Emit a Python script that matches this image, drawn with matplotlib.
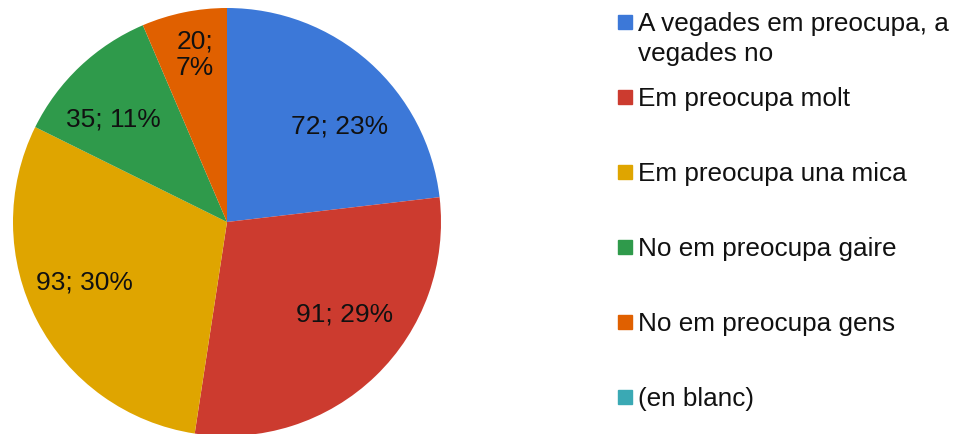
import numpy as np
import matplotlib
matplotlib.use('Agg')
import matplotlib.pyplot as plt
from matplotlib.patches import Rectangle

plt.rcParams['font.family'] = ['Liberation Sans', 'DejaVu Sans']

categories = ['A vegades em preocupa, a\nvegades no', 'Em preocupa molt',
              'Em preocupa una mica', 'No em preocupa gaire',
              'No em preocupa gens', '(en blanc)']
values = [72, 91, 93, 35, 20, 0]
pct_labels = ['72; 23%', '91; 29%', '93; 30%', '35; 11%', '20;\n7%', '']
colors = ['#3c78d8', '#cc3b2f', '#dfa500', '#2f9a4b', '#e06000', '#3aa9b4']

W, H = 962, 434
fig = plt.figure(figsize=(W / 100, H / 100), dpi=100)

# pie area: centre ~ (227, 222) px, radius ~214 px
cx, cy, r = 227, 222, 214
ax = fig.add_axes([(cx - r) / W, 1 - (cy + r) / H, 2 * r / W, 2 * r / H])
ax.set_aspect('equal')
ax.axis('off')

vals = [v for v in values if v > 0]
cols = [c for v, c in zip(values, colors) if v > 0]
labs = [l for v, l in zip(values, pct_labels) if v > 0]
wedges, _ = ax.pie(vals, colors=cols, startangle=90, counterclock=False,
                   radius=1.0)
ax.set_xlim(-1, 1)
ax.set_ylim(-1, 1)

# label placement tweaks (degrees off the wedge middle, radius fraction)
shift = [8, -8, 4.6, -4.5, 0.8]
dist = [0.69, 0.70, 0.725, 0.715, 0.795]
for w, lab, s, d in zip(wedges, labs, shift, dist):
    ang = np.deg2rad((w.theta1 + w.theta2) / 2 - s)
    ax.text(d * np.cos(ang), d * np.sin(ang), lab, ha='center', va='center',
            fontsize=19, color='#111111', linespacing=1.14)

# legend drawn by hand
y0, step, fs = 22, 75, 18.8
for i, (lab, c) in enumerate(zip(categories, colors)):
    yc = y0 + step * i
    fig.patches.append(Rectangle((618 / W, 1 - (yc + 7) / H), 14 / W, 14 / H,
                                 transform=fig.transFigure, color=c))
    for j, line in enumerate(lab.split('\n')):
        base = yc + 30 * j + 0.358 * fs * 100 / 72
        fig.text(638 / W, 1 - base / H, line, ha='left', va='baseline',
                 fontsize=fs, color='#111111')

fig.savefig('out.png', dpi=100, facecolor='white')
